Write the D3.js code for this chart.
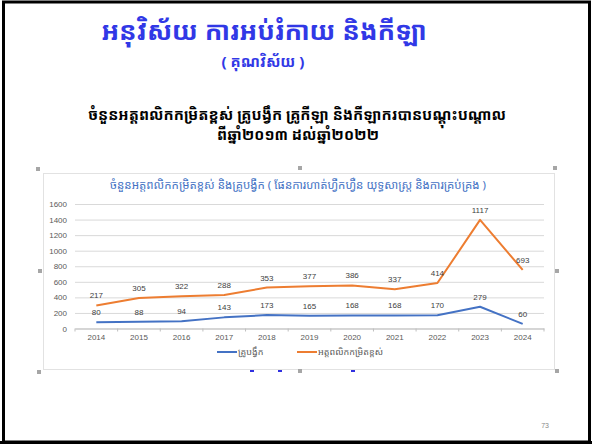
<!DOCTYPE html>
<html>
<head>
<meta charset="utf-8">
<script src="https://cdn.jsdelivr.net/npm/d3@7"></script>
<style>
  body { margin: 0; background: #fff; }
  svg { display: block; }
</style>
</head>
<body>
<script>

var width = 592,
    height = 444;

var years = ["2014", "2015", "2016", "2017", "2018", "2019", "2020", "2021", "2022", "2023", "2024"];
var coaches = [80, 88, 94, 143, 173, 165, 168, 168, 170, 279, 60];
var athletes = [217, 305, 322, 288, 353, 377, 386, 337, 414, 1117, 693];
var yTicks = [0, 200, 400, 600, 800, 1000, 1200, 1400, 1600];

var seriesNames = ["គ្រូបង្វឹក", "អត្តពលិកកម្រិតខ្ពស់"];
var colors = ["#4472c4", "#ed7d31"];

var khmer = "'Noto Sans Khmer', 'Khmer OS', 'Khmer OS System', 'Noto Sans', sans-serif";
var num = "'Liberation Sans', Arial, sans-serif";

var svg = d3.select("body").append("svg")
    .attr("width", width)
    .attr("height", height);

// slide frame
svg.append("rect").attr("x", 0).attr("y", 0).attr("width", width).attr("height", height).attr("fill", "#fff");
svg.append("rect").attr("x", 3.5).attr("y", 2).attr("width", 586).attr("height", 440)
    .attr("fill", "none").attr("stroke", "#000").attr("stroke-width", 3);
svg.append("rect").attr("x", 0).attr("y", 441).attr("width", width).attr("height", 3).attr("fill", "#000");

// slide titles
svg.append("text")
    .attr("x", 264).attr("y", 40)
    .attr("text-anchor", "middle")
    .style("font-family", khmer).style("font-size", "26px").style("font-weight", "bold")
    .attr("fill", "#3138e6")
    .text("អនុវិស័យ ការអប់រំកាយ និងកីឡា");

svg.append("text")
    .attr("x", 263).attr("y", 67)
    .attr("text-anchor", "middle")
    .style("font-family", khmer).style("font-size", "15px").style("font-weight", "bold")
    .attr("fill", "#3138e6")
    .text("( គុណវិស័យ )");

svg.append("text")
    .attr("x", 297).attr("y", 120)
    .attr("text-anchor", "middle")
    .style("font-family", khmer).style("font-size", "15px").style("font-weight", "bold")
    .attr("fill", "#000")
    .text("ចំនួនអត្តពលិកកម្រិតខ្ពស់ គ្រូបង្វឹក គ្រូកីឡា និងកីឡាករបានបណ្តុះបណ្តាល");

svg.append("text")
    .attr("x", 298).attr("y", 140)
    .attr("text-anchor", "middle")
    .style("font-family", khmer).style("font-size", "15px").style("font-weight", "bold")
    .attr("fill", "#000")
    .text("ពីឆ្នាំ២០១៣ ដល់ឆ្នាំ២០២២");

svg.append("text")
    .attr("x", 549).attr("y", 428)
    .attr("text-anchor", "end")
    .style("font-family", num).style("font-size", "7px")
    .attr("fill", "#888")
    .text("73");

// chart box
var box = { x: 43, y: 173, w: 511, h: 196 };
svg.append("rect")
    .attr("x", box.x + 0.5).attr("y", box.y + 0.5)
    .attr("width", box.w).attr("height", box.h)
    .attr("fill", "#fff").attr("stroke", "#e2e2e2");

// selection handles
[[38, 169], [300, 168], [555, 168], [40, 271], [557, 271], [39, 372], [300, 371], [557, 371]].forEach(function(p) {
    svg.append("rect").attr("x", p[0] - 2).attr("y", p[1] - 2).attr("width", 4).attr("height", 4).attr("fill", "#a6a6a6");
});
// clipped text fragments under chart
[252, 280, 353].forEach(function(xx) {
    svg.append("rect").attr("x", xx - 2).attr("y", 370).attr("width", 4).attr("height", 2).attr("fill", "#3030e0");
});

svg.append("text")
    .attr("x", 298).attr("y", 189)
    .attr("text-anchor", "middle")
    .style("font-family", khmer).style("font-size", "11.5px")
    .attr("fill", "#4472c4")
    .text("ចំនួនអត្តពលិកកម្រិតខ្ពស់  និងគ្រូបង្វឹក ( ផែនការហាត់ហ្វឹកហ្វឺន  យុទ្ធសាស្រ្ត  និងការគ្រប់គ្រង )");

var plot = { left: 75, right: 544, top: 204, bottom: 328.5 };

var x = d3.scaleBand()
    .domain(years)
    .range([plot.left, plot.right]);

var y = d3.scaleLinear()
    .domain([0, 1600])
    .range([plot.bottom, plot.top]);

var g = svg.append("g");

// gridlines + y labels
g.append("g")
    .attr("transform", "translate(" + plot.left + ",0)")
    .call(d3.axisLeft(y).tickValues(yTicks).tickFormat(d3.format("d"))
        .tickSize(-(plot.right - plot.left)).tickPadding(8))
    .call(function(a) {
        a.select(".domain").remove();
        a.selectAll(".tick line").attr("stroke", "#d9d9d9");
        a.selectAll(".tick text").attr("fill", "#595959")
            .style("font-family", num).style("font-size", "8px");
    });

// x axis
g.append("g")
    .attr("transform", "translate(0," + plot.bottom + ")")
    .call(d3.axisBottom(x).tickSize(0).tickPadding(6))
    .call(function(a) {
        a.select(".domain").attr("stroke", "#bfbfbf");
        a.selectAll(".tick text").attr("fill", "#595959")
            .style("font-family", num).style("font-size", "8px");
    });

g.selectAll(".xtick")
    .data(years.concat(["end"]))
    .enter().append("line")
    .attr("class", "xtick")
    .attr("x1", function(d, i) { return plot.left + i * x.bandwidth(); })
    .attr("x2", function(d, i) { return plot.left + i * x.bandwidth(); })
    .attr("y1", plot.bottom)
    .attr("y2", plot.bottom + 3)
    .attr("stroke", "#bfbfbf");

// stacked series
var table = years.map(function(yr, i) {
    return { year: yr, coaches: coaches[i], athletes: athletes[i] };
});

var stack = d3.stack().keys(["coaches", "athletes"]);
var series = stack(table);

var line = d3.line()
    .x(function(d) { return x(d.data.year) + x.bandwidth() / 2; })
    .y(function(d) { return y(d[1]); });

g.selectAll(".series")
    .data(series)
    .enter().append("path")
    .attr("class", "series")
    .attr("fill", "none")
    .attr("stroke", function(d, i) { return colors[i]; })
    .attr("stroke-width", 2)
    .attr("stroke-linejoin", "round")
    .attr("d", line);

series.forEach(function(s) {
    g.selectAll(".lbl-" + s.key)
        .data(s)
        .enter().append("text")
        .attr("x", function(d) { return x(d.data.year) + x.bandwidth() / 2; })
        .attr("y", function(d) { return y(d[1]) - 7; })
        .attr("text-anchor", "middle")
        .attr("fill", "#404040")
        .style("font-family", num).style("font-size", "8px")
        .text(function(d) { return d.data[s.key]; });
});

// legend
var legend = svg.append("g");
var legendX = [217, 297];
seriesNames.forEach(function(name, i) {
    legend.append("line")
        .attr("x1", legendX[i]).attr("x2", legendX[i] + 20)
        .attr("y1", 352).attr("y2", 352)
        .attr("stroke", colors[i]).attr("stroke-width", 2);
    legend.append("text")
        .attr("x", legendX[i] + 21).attr("y", 355)
        .attr("fill", "#595959")
        .style("font-family", khmer).style("font-size", "9px")
        .text(name);
});

</script>
</body>
</html>
